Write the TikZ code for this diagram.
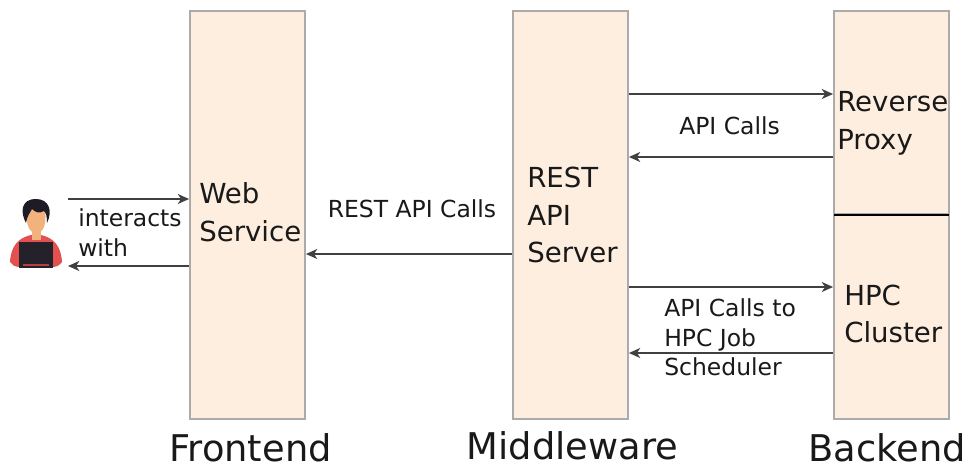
\documentclass[tikz,border=0pt]{standalone}
\usepackage{fontspec}
\setmainfont{DejaVu Sans}
\usetikzlibrary{arrows.meta,positioning}
\definecolor{boxfill}{HTML}{FDEEE0}
\definecolor{boxline}{HTML}{ABABAB}
\definecolor{arrowline}{HTML}{404040}
\definecolor{skin}{HTML}{F2B27D}
\definecolor{shirt}{HTML}{E2504F}
\definecolor{hair}{HTML}{1E1B26}
\definecolor{laptop}{HTML}{24212B}
\tikzstyle{tier} = [rectangle, draw=boxline, fill=boxfill, line width=1.6pt,
    minimum width=86pt, inner sep=0pt]
\tikzstyle{boxtext} = [anchor=base west, inner sep=0pt, font=\fontsize{20.7}{24}\selectfont, text=black!90]
\tikzstyle{calltext} = [anchor=base west, inner sep=0pt, font=\fontsize{17.6}{21}\selectfont, text=black!90]
\tikzstyle{tiertext} = [anchor=base, inner sep=0pt, font=\fontsize{27.6}{32}\selectfont, text=black!90]
\tikzstyle{call} = [-{Stealth[length=8.5pt,width=7.5pt,inset=2.5pt]}, arrowline, line width=1.2pt]

\begin{document}
\begin{tikzpicture}[x=0.75pt,y=-0.75pt]
  \useasboundingbox (0,0) rectangle (966,463);
  % Place boxes
  \node [tier, minimum height=306pt] (front) at (247.5,215) {};
  \node [tier, minimum height=306pt] (middle) at (570.5,215) {};
  \node [tier, minimum height=152.2pt] (proxy) at (891.5,112.5) {};
  \node [tier, minimum height=153.8pt] (cluster) at (891.5,316.5) {};
  \draw [black, line width=1.7pt, shorten >=1pt, shorten <=1pt] (proxy.south west) -- (proxy.south east);
  % Person
  \coordinate (user) at (36,234);
  \fill [shirt] (10,262) .. controls (11,246) and (18,238) .. (31,235) -- (41,235)
    .. controls (54,238) and (61,246) .. (62,262) .. controls (59,266) and (56,267) .. (52,267)
    -- (20,267) .. controls (15,267) and (12,265) .. (10,262) -- cycle;
  \fill [skin] (32,226) rectangle (41,240);
  \fill [skin] (27,208) .. controls (25,226) and (30,233) .. (36,233)
    .. controls (43,233) and (47,226) .. (45,208) -- cycle;
  \fill [hair] (26,223) .. controls (20,212) and (21,199) .. (36,199)
    .. controls (49,199) and (53,211) .. (47,223) .. controls (47,216) and (46,213) .. (44,211)
    .. controls (39,214) and (35,212) .. (32,209) .. controls (30,213) and (27,216) .. (26,223) -- cycle;
  \fill [laptop] (19,242) rectangle (53,268);
  \fill [shirt!80!black] (23,264) rectangle (49,265.5);
  % Free ends at the person
  \coordinate (userTop) at (68,199);
  \coordinate (userLow) at (68,266);
  % Heights of the calls
  \coordinate (restCall) at (400,254);
  \coordinate (proxyTop) at (730,94);
  \coordinate (proxyLow) at (730,157);
  \coordinate (hpcTop) at (730,287);
  \coordinate (hpcLow) at (730,353);
  % Draw edges
  \draw [call] (userTop) -- (userTop -| front.west);
  \draw [call] (userLow -| front.west) -- (userLow);
  \draw [call] (restCall -| middle.west) -- (restCall -| front.east);
  \draw [call] (proxyTop -| middle.east) -- (proxyTop -| proxy.west);
  \draw [call] (proxyLow -| proxy.west) -- (proxyLow -| middle.east);
  \draw [call] (hpcTop -| middle.east) -- (hpcTop -| cluster.west);
  \draw [call] (hpcLow -| cluster.west) -- (hpcLow -| middle.east);
  % Place texts
  \node [boxtext] (web) at (199,204) {Web};
  \node [boxtext] (service) at (199,241) {Service};
  \node [boxtext] (rest) at (527,188) {REST};
  \node [boxtext] (api) at (527,225) {API};
  \node [boxtext] (server) at (527,262) {Server};
  \node [boxtext] (reverse) at (837,112) {Reverse};
  \node [boxtext] (proxytxt) at (837,150) {Proxy};
  \node [boxtext] (hpc) at (844,305) {HPC};
  \node [boxtext] (clustertxt) at (844,342) {Cluster};
  \node [calltext] (interacts) at (78,226) {interacts};
  \node [calltext] (with) at (78,256) {with};
  \node [calltext] (resttxt) at (327.5,218) {REST API Calls};
  \node [calltext] (apitxt) at (679,135) {API Calls};
  \node [calltext] (hpc1) at (664,316) {API Calls to};
  \node [calltext] (hpc2) at (664,346) {HPC Job};
  \node [calltext] (hpc3) at (664,375) {Scheduler};
  \node [tiertext] (fronttxt) at (250.5,461) {Frontend};
  \node [tiertext] (middletxt) at (572.5,459) {Middleware};
  \node [tiertext] (backtxt) at (887,461) {Backend};
\end{tikzpicture}
\end{document}
